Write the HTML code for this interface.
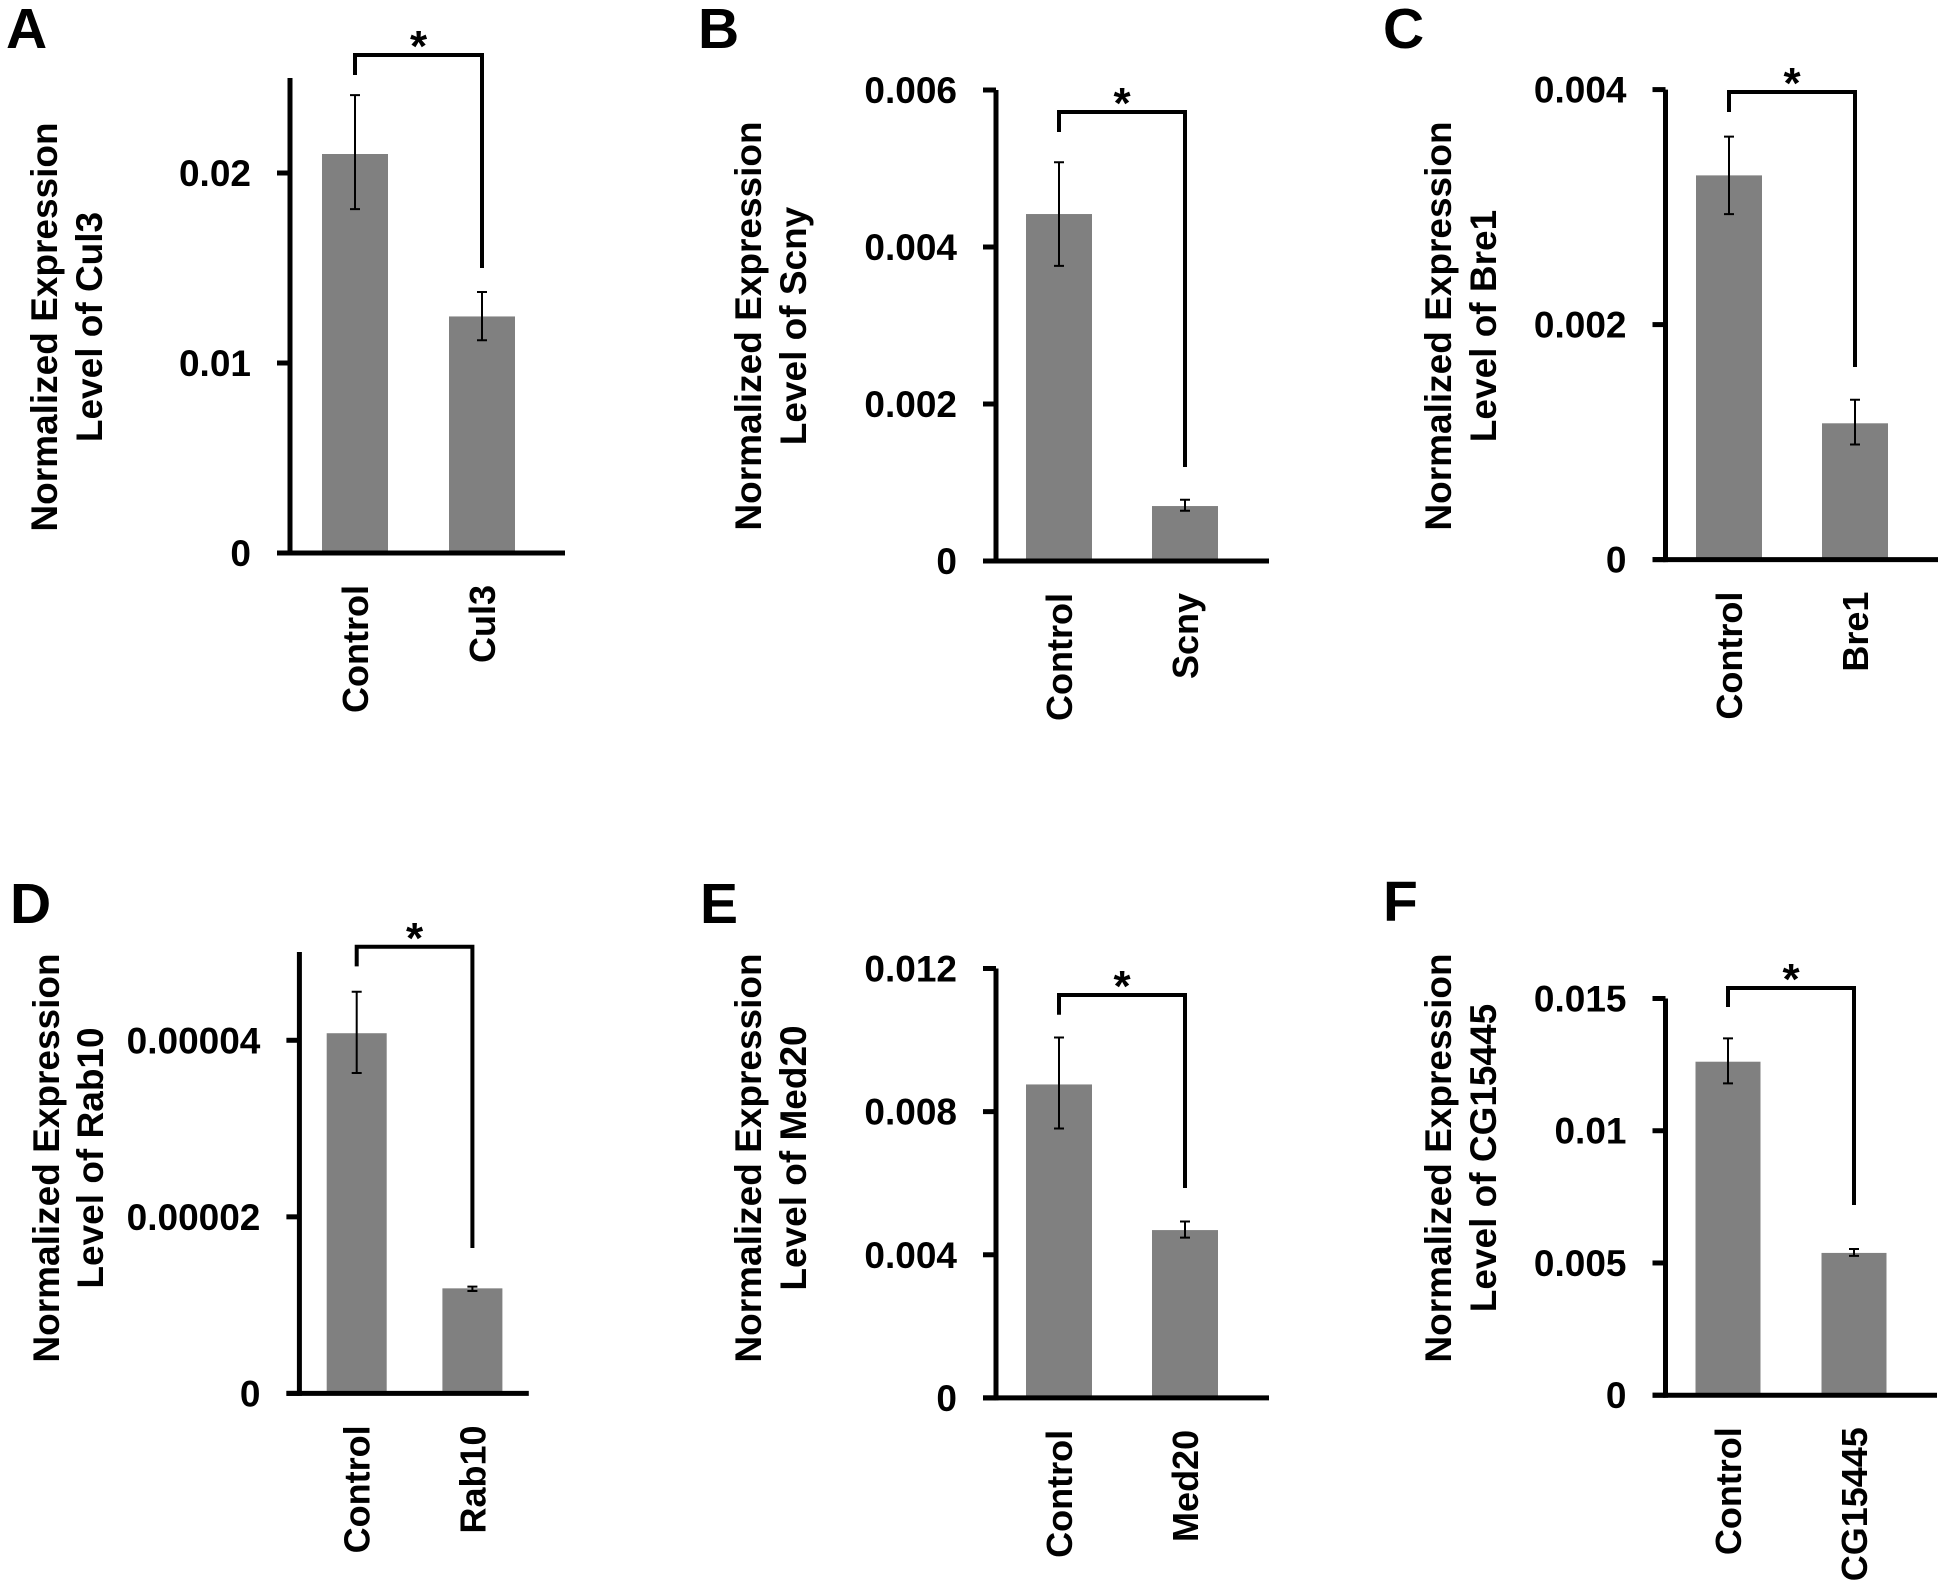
<!DOCTYPE html>
<html><head><meta charset="utf-8"><style>
html,body{margin:0;padding:0;background:#fff;}
svg{display:block;}
text{font-family:"Liberation Sans",Arial,sans-serif;font-weight:bold;fill:#000;}
</style></head><body>
<svg id="fig" width="1944" height="1594" viewBox="0 0 1944 1594" xmlns="http://www.w3.org/2000/svg"></svg>
<script>
// ---- data ----
const panelLetters = ["A","B","C","D","E","F"];
const geneNames = ["Cul3","Scny","Bre1","Rab10","Med20","CG15445"];
const controlValues = [0.0210, 0.00442, 0.00327, 0.0000408, 0.00876, 0.01261];
const controlErrHigh = [0.0241, 0.00508, 0.00360, 0.0000455, 0.01007, 0.01349];
const controlErrLow  = [0.0181, 0.00376, 0.00294, 0.0000363, 0.00753, 0.01179];
const treatValues = [0.01245, 0.00070, 0.00116, 0.0000119, 0.00469, 0.00538];
const treatErrHigh = [0.01374, 0.00078, 0.00136, 0.0000121, 0.00493, 0.00553];
const treatErrLow  = [0.0112, 0.00064, 0.00098, 0.0000116, 0.00448, 0.00527];
const yMaxValues = [0.025, 0.006, 0.004, 0.00005, 0.012, 0.015];
const yTickValues = [[0,0.01,0.02],[0,0.002,0.004,0.006],[0,0.002,0.004],[0,0.00002,0.00004],[0,0.004,0.008,0.012],[0,0.005,0.01,0.015]];
const yTickLabels = [["0","0.01","0.02"],["0","0.002","0.004","0.006"],["0","0.002","0.004"],["0","0.00002","0.00004"],["0","0.004","0.008","0.012"],["0","0.005","0.01","0.015"]];

// ---- layout (pixels) ----
const axisXs = [290, 996, 1665.5, 299.4, 996, 1665.5];
const baseYs = [553, 561, 559.6, 1393.4, 1397.9, 1395.2];
const axisLens = [475, 471, 470, 441.4, 429.4, 396.7];
const axisEnds = [565, 1269, 1938, 528.8, 1269, 1937];
const barOffsets = [[65,192],[63,189],[63.5,189.5],[57.3,173],[63,189],[62.5,188.5]];
const barWidths = [66,66,66,60,66,65];
const bracketTops = [55,112,92,946.8,995,988];
const bracketLeftBottoms = [75,132,112,966.4,1014.7,1007];
const bracketRightBottoms = [268,467,367,1248,1188,1205];
const titleX1 = [44,748,1438,46,748,1438];
const titleX2 = [89,793,1483,90,793,1483];
const titleCY = [327,326,326,1158,1158,1158];
const letterX = [6,698,1383,10,700,1383];
const letterBase = [48,48,48,923,923,921];

const NS = "http://www.w3.org/2000/svg";
const svg = document.getElementById('fig');
function mk(tag, attrs, parent){
  const e = document.createElementNS(NS, tag);
  for (const k in attrs) e.setAttribute(k, attrs[k]);
  (parent||svg).appendChild(e);
  return e;
}

for (let p = 0; p < 6; p++) {
  const g = mk('g', {});
  
  
  const ax = axisXs[p], by = baseYs[p];
  const yScale = v => by - v / yMaxValues[p] * axisLens[p];
  const xCenter = i => ax + barOffsets[p][i];

  const L = mk('text', {x: letterX[p], y: letterBase[p], 'font-size': 57}, g);
  L.textContent = panelLetters[p];
  
  

  const t1 = mk('text', {x: titleX1[p]+13, y: titleCY[p], 'font-size': 37, 'text-anchor': 'middle', transform: `rotate(-90 ${titleX1[p]+13} ${titleCY[p]})`}, g);
  t1.textContent = 'Normalized Expression';
  
  
  const t2 = mk('text', {x: titleX2[p]+13, y: titleCY[p], 'font-size': 37, 'text-anchor': 'middle', transform: `rotate(-90 ${titleX2[p]+13} ${titleCY[p]})`}, g);
  t2.textContent = 'Level of ' + geneNames[p];
  
  

  const vals = [controlValues[p], treatValues[p]];
  const hi = [controlErrHigh[p], treatErrHigh[p]];
  const lo = [controlErrLow[p], treatErrLow[p]];
  for (let i = 0; i < 2; i++) {
    const cx = xCenter(i), w = barWidths[p];
    const r = mk('rect', {x: cx - w/2, y: yScale(vals[i]), width: w, height: by - yScale(vals[i]), fill: '#808080'}, g);
    
    
    const eb = mk('path', {d: `M${cx},${yScale(hi[i])}V${yScale(lo[i])}M${cx-5},${yScale(hi[i])}H${cx+5}M${cx-5},${yScale(lo[i])}H${cx+5}`, stroke: '#000', 'stroke-width': 2, fill: 'none'}, g);
    
    
    const xl = mk('text', {x: cx + 13, y: by + 32, 'font-size': 36, 'text-anchor': 'end', transform: `rotate(-90 ${cx+13} ${by+32})`}, g);
    xl.textContent = i === 0 ? 'Control' : geneNames[p];
    
    
  }

  const yAxis = mk('line', {x1: ax, y1: by - axisLens[p], x2: ax, y2: by + 2.5, stroke: '#000', 'stroke-width': 5}, g);
  
  
  const xAxis = mk('line', {x1: ax - 13, y1: by, x2: axisEnds[p], y2: by, stroke: '#000', 'stroke-width': 5}, g);
  
  

  yTickValues[p].forEach((v, k) => {
    const ty = yScale(v);
    const tk = mk('line', {x1: ax - 13, y1: ty, x2: ax, y2: ty, stroke: '#000', 'stroke-width': 5}, g);
    
    
    const tl = mk('text', {x: ax - 39, y: ty + 13, 'font-size': 37, 'text-anchor': 'end'}, g);
    tl.textContent = yTickLabels[p][k];
    
    
  });

  const x0 = xCenter(0), x1 = xCenter(1);
  const br = mk('path', {d: `M${x0},${bracketLeftBottoms[p]}V${bracketTops[p]}H${x1}V${bracketRightBottoms[p]}`, stroke: '#000', 'stroke-width': 4, fill: 'none'}, g);
  
  
  const st = mk('text', {x: (x0 + x1) / 2, y: bracketTops[p] - 19 + 25, 'font-size': 44, 'text-anchor': 'middle'}, g);
  st.textContent = '*';
  
  
}
</script>
</body></html>
